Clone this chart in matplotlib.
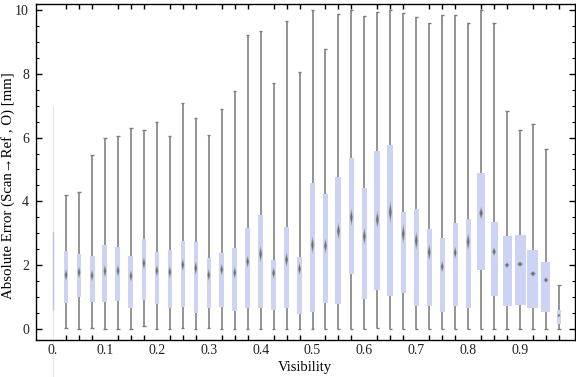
import matplotlib
matplotlib.use("Agg")
import matplotlib.pyplot as plt
import numpy as np

plt.rcParams['font.family'] = ['Liberation Serif', 'DejaVu Serif']

# ---- data ----
visibility = [0.025, 0.05, 0.075, 0.1, 0.125, 0.15, 0.175, 0.2, 0.225, 0.25,
              0.275, 0.3, 0.325, 0.35, 0.375, 0.4, 0.425, 0.45, 0.475, 0.5,
              0.525, 0.55, 0.575, 0.6, 0.625, 0.65, 0.675, 0.7, 0.725, 0.75,
              0.775, 0.8, 0.825, 0.85, 0.875, 0.9, 0.925, 0.95, 0.975]
whisker_low = [0.02, 0.0, 0.02, 0.0, 0.0, 0.0, 0.1, 0.0, 0.0, 0.02,
               0.0, 0.02, 0.0, 0.0, 0.0, 0.0, 0.0, 0.0, 0.0, 0.0,
               0.0, 0.0, 0.0, 0.0, 0.03, 0.0, 0.0, 0.0, 0.0, 0.0,
               0.0, 0.0, 0.0, 0.0, 0.0, 0.0, 0.0, 0.0, 0.0]
q1 = [0.82, 1.01, 0.85, 0.83, 0.86, 0.66, 0.91, 0.78, 0.66, 0.69,
      0.50, 0.66, 0.70, 0.56, 0.66, 0.64, 0.60, 0.64, 0.45, 0.53,
      0.82, 0.79, 1.73, 0.95, 1.23, 1.04, 1.14, 0.73, 0.73, 0.54,
      0.73, 0.64, 1.86, 1.04, 0.73, 0.76, 0.64, 0.54, 0.16]
median = [1.69, 1.77, 1.67, 1.81, 1.82, 1.66, 2.06, 1.82, 1.78, 2.01,
          1.90, 1.69, 1.86, 1.76, 2.11, 2.35, 1.75, 2.17, 1.88, 2.63,
          2.60, 3.07, 3.50, 2.90, 3.43, 3.66, 2.98, 2.76, 2.40, 1.95,
          2.39, 2.73, 3.63, 2.42, 2.00, 2.03, 1.73, 1.53, 0.42]
q3 = [2.44, 2.34, 2.29, 2.62, 2.57, 2.29, 2.83, 2.42, 2.46, 2.76,
      2.73, 2.23, 2.38, 2.54, 3.16, 3.57, 2.16, 3.19, 2.26, 4.58,
      4.23, 4.76, 5.35, 4.42, 5.58, 5.77, 3.67, 3.76, 3.13, 2.85,
      3.32, 3.45, 4.89, 3.35, 2.92, 2.95, 2.48, 2.10, 0.60]
whisker_high = [4.2, 4.3, 5.45, 6.0, 6.05, 6.3, 6.25, 6.5, 6.05, 7.1,
                6.6, 6.08, 6.9, 7.46, 9.22, 9.35, 7.7, 9.65, 8.05, 10.0,
                8.77, 9.87, 10.0, 9.8, 9.93, 10.0, 9.9, 9.77, 9.58, 9.83,
                9.83, 9.58, 10.0, 9.6, 6.82, 6.23, 6.42, 5.63, 1.38]
median_notch = [0.19, 0.19, 0.19, 0.20, 0.19, 0.19, 0.20, 0.19, 0.20, 0.20,
                0.22, 0.19, 0.19, 0.19, 0.20, 0.27, 0.19, 0.24, 0.20, 0.28,
                0.24, 0.27, 0.28, 0.28, 0.28, 0.35, 0.31, 0.30, 0.27, 0.19,
                0.20, 0.28, 0.20, 0.14, 0.09, 0.09, 0.09, 0.09, 0.06]

# visibility 0 group (degenerate)
zero_vis = 0.0
zero_box = [0.62, 3.05]
zero_max = 7.0

x_tick_values = [0.0, 0.1, 0.2, 0.3, 0.4, 0.5, 0.6, 0.7, 0.8, 0.9]
x_tick_labels = ["0.", "0.1", "0.2", "0.3", "0.4", "0.5", "0.6", "0.7", "0.8", "0.9"]
y_tick_values = [0, 2, 4, 6, 8, 10]

# ---- style ----
box_width_px = [4, 3.7, 5, 5, 5, 5, 4, 4, 4, 4,
                4, 4.3, 5, 5, 5, 5, 5, 5, 5, 5,
                5, 6, 5, 5, 6, 6, 5, 5, 5, 5,
                5, 5, 7.3, 7, 9, 11, 11, 9, 3.7]
box_color = '#CCD3F5'
whisker_color = '#7c7c7c'

W, H = 576, 377
fig = plt.figure(figsize=(W / 100, H / 100), dpi=100)
ax_left, ax_right, ax_top, ax_bottom = 36, 575, 4, 340
ax = fig.add_axes([ax_left / W, 1 - ax_bottom / H,
                   (ax_right - ax_left) / W, (ax_bottom - ax_top) / H])
xlim = (-0.033, 1.006)
ylim = (-0.35, 10.19)
ax.set_xlim(*xlim)
ax.set_ylim(*ylim)

px_per_x = (ax_right - ax_left) / (xlim[1] - xlim[0])

vis = np.array(visibility)
widths = np.array(box_width_px) / px_per_x

# degenerate zero group
fig.canvas.draw()
y_fig_bottom = ax.transData.inverted().transform(fig.transFigure.transform((0, 0)))[1]
ax.plot([zero_vis, zero_vis], [y_fig_bottom, zero_max], color='#e8e8e8', lw=0.9,
        clip_on=False, zorder=1)
ax.plot([zero_vis, zero_vis], zero_box, color='#b9c1ee', lw=1.0, zorder=2)

# whiskers
ax.vlines(vis, whisker_low, whisker_high, color=whisker_color, lw=1.15, zorder=2)
cap_half = 1.6 / px_per_x
ax.hlines(whisker_high, vis - cap_half, vis + cap_half, color=whisker_color, lw=1.0, zorder=2)
ax.hlines(whisker_low, vis - cap_half, vis + cap_half, color=whisker_color, lw=1.0, zorder=2)

# boxes
q1a, q3a = np.array(q1), np.array(q3)
ax.bar(vis, q3a - q1a, width=widths, bottom=q1a, color=box_color, edgecolor='none',
       zorder=3)

# median notch markers (diamonds)
for xv, w, m, n in zip(vis, widths, median, median_notch):
    hw = max(1.6 / px_per_x, 0.28 * w)
    ax.fill([xv - hw, xv, xv + hw, xv], [m, m + n, m, m - n],
            color='#9a9a9a', alpha=0.8, lw=0, zorder=4)
    ax.fill([xv - hw * 0.6, xv, xv + hw * 0.6, xv], [m, m + n * 0.65, m, m - n * 0.65],
            color='#6c6c6c', lw=0, zorder=5)

# axes styling
for s in ax.spines.values():
    s.set_linewidth(1.0)
    s.set_color('black')

ax.set_xticks(np.concatenate([[zero_vis], vis]), minor=True)
ax.set_xticks(x_tick_values)
ax.set_xticklabels(x_tick_labels)
ax.set_yticks(y_tick_values)
ax.set_yticks(np.arange(0, 10.01, 0.5), minor=True)
ax.tick_params(axis='x', which='major', direction='in', length=0, top=False,
               labelsize=10, pad=3, labelcolor='#222222')
ax.tick_params(axis='x', which='minor', direction='in', length=3.5, width=1.0,
               top=True, bottom=True)
ax.tick_params(axis='y', which='major', direction='in', length=4.5, width=1.0,
               left=True, right=True, labelsize=10, pad=5, labelcolor='#222222')
ax.tick_params(axis='y', which='minor', direction='in', length=2.5, width=0.8,
               left=True, right=True)

ax.set_xlabel('Visibility', fontsize=10.5)
ax.set_ylabel('Absolute Error (Scan\u2192Ref , O) [mm]', fontsize=10.7)
ax.xaxis.set_label_coords((305 - ax_left) / (ax_right - ax_left),
                          (ax_bottom - 367) / (ax_bottom - ax_top))
ax.yaxis.set_label_coords((8 - ax_left) / (ax_right - ax_left),
                          (ax_bottom - 186) / (ax_bottom - ax_top))
ax.xaxis.label.set_va('center')
ax.yaxis.label.set_va('center')

fig.savefig('out.png', dpi=100)
